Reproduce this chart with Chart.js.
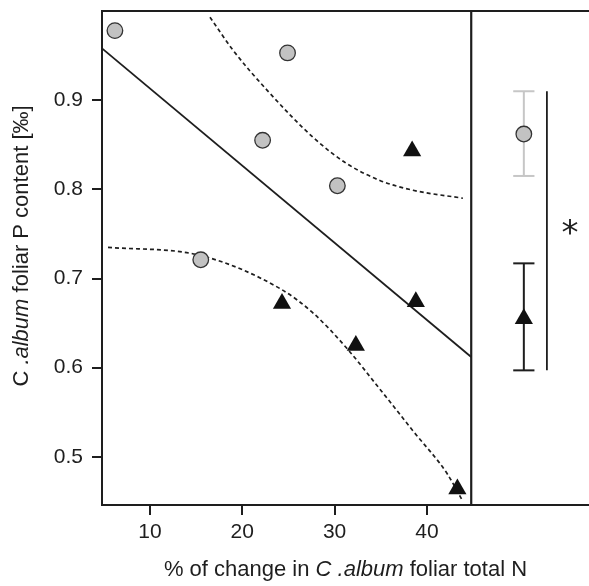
<!DOCTYPE html>
<html>
<head>
<meta charset="utf-8">
<script src="https://cdn.jsdelivr.net/npm/chart.js@4/dist/chart.umd.min.js"></script>
<style>
html,body{margin:0;padding:0;background:#fff;}
#wrap{width:589px;height:586px;position:relative;}
</style>
</head>
<body>
<div id="wrap"><canvas id="c" width="589" height="586"></canvas></div>
<script>
// ---- data ----
const circleX = [6.2, 24.9, 22.2, 30.3, 15.5];
const circleY = [0.978, 0.953, 0.855, 0.804, 0.721];
const triX = [38.4, 24.3, 38.8, 32.3, 43.3];
const triY = [0.843, 0.672, 0.674, 0.625, 0.464];
const fitX = [4.8, 44.8];
const fitY = [0.958, 0.612];
const upperX = [16.5, 19.0, 22.7, 27.7, 31.3, 34.9, 38.5, 43.9];
const upperY = [0.993, 0.956, 0.911, 0.858, 0.829, 0.810, 0.799, 0.790];
const lowerX = [5.45, 15.4, 24.2, 27.7, 31.3, 34.9, 38.5, 42.2, 43.9];
const lowerY = [0.735, 0.726, 0.688, 0.661, 0.622, 0.576, 0.529, 0.481, 0.450];
const panelX = [44.8];            // divider between scatter and summary panel
const meanX = [50.5];
const meanCircle = [0.862];
const circleErr = [0.815, 0.910];
const meanTri = [0.655];
const triErr = [0.597, 0.717];
const sigX = [53.0];
const sigY = [0.597, 0.910];
const starPos = [55.5, 0.754];
const xTicks = [10, 20, 30, 40];
const yTicks = [0.5, 0.6, 0.7, 0.8, 0.9];
const xRange = [4.8, 57.56];
const yRange = [0.446, 1.0];
const capHalf = 1.15;

const pts = (xs, ys) => xs.map((x, i) => ({x: x, y: ys[i]}));
const vline = (x, y0, y1) => [{x: x, y: y0}, {x: x, y: y1}];
const hline = (x, y) => [{x: x - capHalf, y: y}, {x: x + capHalf, y: y}];

const INK = '#1e1e1e';
const GREY = '#c6c6c6';
const FONT = '"Liberation Sans", Arial, sans-serif';
const lineDs = (data, color, width, dash, order) => ({
  type: 'line', data: data, borderColor: color, borderWidth: width,
  borderDash: dash || [], pointRadius: 0, fill: false, showLine: true,
  order: order || 5, cubicInterpolationMode: 'monotone'
});

const datasets = [
  lineDs(pts(fitX, fitY), INK, 1.8),
  lineDs(pts(upperX, upperY), INK, 1.7, [4, 3]),
  lineDs(pts(lowerX, lowerY), INK, 1.7, [4, 3]),
  lineDs(vline(panelX[0], yRange[0], yRange[1]), INK, 2.2),
  // summary panel error bars
  lineDs(vline(meanX[0], circleErr[0], circleErr[1]), GREY, 2),
  lineDs(hline(meanX[0], circleErr[0]), GREY, 2),
  lineDs(hline(meanX[0], circleErr[1]), GREY, 2),
  lineDs(vline(meanX[0], triErr[0], triErr[1]), INK, 2),
  lineDs(hline(meanX[0], triErr[0]), INK, 2),
  lineDs(hline(meanX[0], triErr[1]), INK, 2),
  lineDs(vline(sigX[0], sigY[0], sigY[1]), INK, 1.8),
  {
    type: 'scatter', data: pts(circleX.concat(meanX), circleY.concat(meanCircle)),
    pointStyle: 'circle', pointRadius: 7.8, backgroundColor: '#c2c2c2',
    borderColor: '#333', borderWidth: 1.3, order: 1
  },
  {
    type: 'scatter', data: pts(triX.concat(meanX), triY.concat(meanTri)),
    pointStyle: 'triangle', pointRadius: 10.5, backgroundColor: '#111',
    borderColor: '#111', borderWidth: 0, order: 1
  }
];

function drawSegments(ctx, segs, size) {
  let total = 0;
  segs.forEach(s => {
    ctx.font = (s[1] ? 'italic ' : '') + size + 'px ' + FONT;
    s.w = ctx.measureText(s[0]).width; total += s.w;
  });
  let x = -total / 2;
  segs.forEach(s => {
    ctx.font = (s[1] ? 'italic ' : '') + size + 'px ' + FONT;
    ctx.fillText(s[0], x, 0); x += s.w;
  });
}

const decor = {
  id: 'decor',
  afterDraw(chart) {
    const ctx = chart.ctx, a = chart.chartArea;
    const xs = chart.scales.x, ys = chart.scales.y;
    ctx.save();
    // top frame line
    ctx.strokeStyle = INK; ctx.lineWidth = 2;
    ctx.beginPath(); ctx.moveTo(a.left - 1, a.top); ctx.lineTo(a.right, a.top); ctx.stroke();
    // asterisk
    ctx.fillStyle = INK; ctx.textAlign = 'center'; ctx.textBaseline = 'middle';
    ctx.font = '34px "DejaVu Sans", ' + FONT;
    ctx.fillText('*', xs.getPixelForValue(starPos[0]), ys.getPixelForValue(starPos[1]) + 5);
    // axis titles
    ctx.textAlign = 'left'; ctx.textBaseline = 'alphabetic';
    ctx.save(); ctx.translate((a.left + a.right) / 2, 576);
    drawSegments(ctx, [['% of change in ', false], ['C .album', true], [' foliar total N', false]], 22);
    ctx.restore();
    ctx.save(); ctx.translate(28, 246); ctx.rotate(-Math.PI / 2);
    drawSegments(ctx, [['C ', false], ['.album', true], [' foliar P content [‰]', false]], 22);
    ctx.restore();
    ctx.restore();
  }
};

new Chart(document.getElementById('c'), {
  type: 'scatter',
  data: {datasets: datasets},
  options: {
    responsive: false, animation: false,
    layout: {autoPadding: false, padding: {top: 0, right: 0, left: 0, bottom: 0}},
    plugins: {legend: {display: false}, tooltip: {enabled: false}},
    scales: {
      x: {
        type: 'linear', min: xRange[0], max: xRange[1],
        afterBuildTicks: s => { s.ticks = xTicks.map(v => ({value: v})); },
        afterFit: s => { s.height = 81; },
        grid: {drawOnChartArea: false, drawTicks: true, tickLength: 10, color: INK, lineWidth: 2},
        border: {display: true, color: INK, width: 2},
        ticks: {color: INK, padding: 5, font: {size: 21, family: FONT}, maxRotation: 0}
      },
      y: {
        type: 'linear', min: yRange[0], max: yRange[1],
        afterBuildTicks: s => { s.ticks = yTicks.map(v => ({value: v})); },
        afterFit: s => { s.width = 102; s.paddingTop = 11; s.paddingBottom = 0; },
        grid: {drawOnChartArea: false, drawTicks: true, tickLength: 10, color: INK, lineWidth: 2},
        border: {display: true, color: INK, width: 2},
        ticks: {color: INK, padding: 9, font: {size: 21, family: FONT},
          callback: v => v.toFixed(1)}
      }
    }
  },
  plugins: [decor]
});
</script>
</body>
</html>
